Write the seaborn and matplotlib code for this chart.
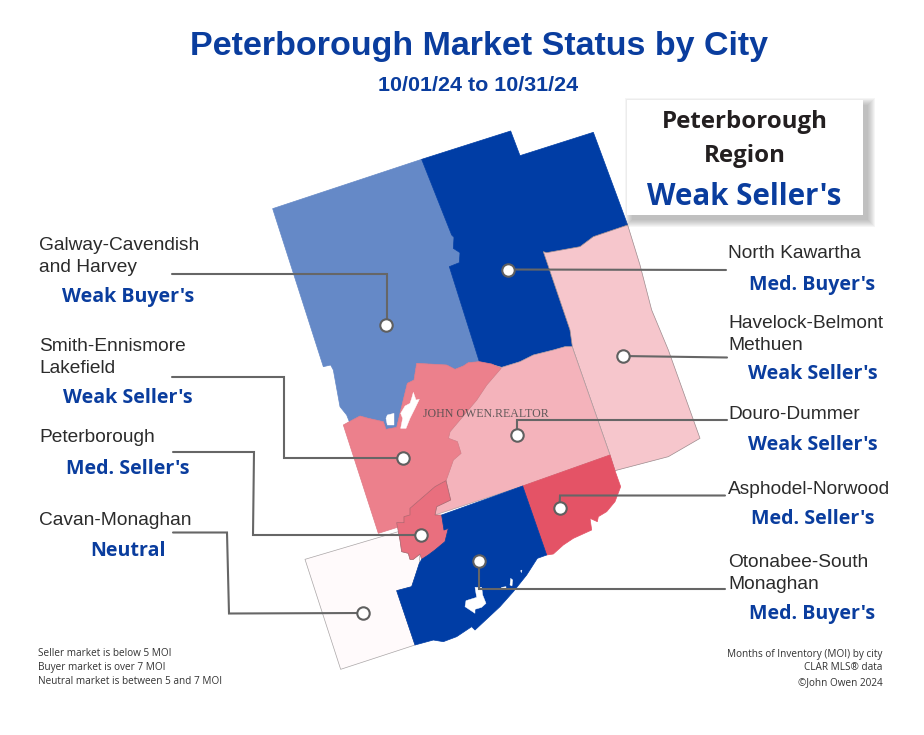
import matplotlib
matplotlib.use("Agg")
import matplotlib.pyplot as plt
from matplotlib.patches import Rectangle
import pandas as pd
import seaborn as sns

sns.set_theme(style="white")
LABEL_FONT = "Liberation Sans"
STATUS_FONT = "Open Sans"

# ---- data: municipality names, statuses, colours, boundaries (reference pixels)
def z1(pts):
    return [(260 + x / 3, 120 + y / 3) for x, y in pts]
def z2(pts):
    return [(300 + x / 3, 350 + y / 3) for x, y in pts]

galway_north = z1([(485,118),(575,345),(582,352),(580,385),(600,398),(598,428),(568,440),(658,725)])
galway_smith = z2([(538,35),(505,38),(490,48),(465,58),(440,45),(350,40),(342,90),(322,100),(300,190),
                   (290,232),(258,238),(250,215),(205,205),(180,198),(148,215)])
galway_outer = z2([(140,195),(120,170),(100,60),(92,45),(70,50)]) + z1([(38,266)])
north_outer = z1([(752,33),(780,107),(1000,37),(1103,315)])
north_havelock = z1([(1000,350),(960,380),(860,398),(850,395),(930,630),(937,680)])
north_douro = z1([(915,680),(880,690),(820,705),(780,725),(725,742),(700,735)])
havelock_outer = z1([(1140,435),(1175,570),(1225,690)]) + z2([(1200,265),(1105,320),(945,362),(930,315)])
havelock_douro = z2([(820,0)])
douro_smith = z2([(603,55),(560,105),(530,150),(450,245),(445,265),(472,275),(483,310),(460,330),(438,392)])
douro_south = z2([(452,450),(410,470),(405,495),(668,408),(930,315)])
smith_west = z2([(575,42)])
smith_south = z2([(130,225),(235,550),(292,532),(290,518),(312,518),(312,500),(330,495),(330,475),(405,410)])
peter_outer = z2([(290,518),(312,518),(312,500),(330,495),(330,475),(405,410),(438,392),(452,450),(410,470),(405,495),
                  (425,495),(432,540),(445,535),(435,575),(405,600),(385,615),(365,628),(360,612),(340,628),
                  (330,628),(325,610),(305,605),(300,570),(295,545)])
asphodel_outer = z2([(668,408),(930,315),(945,362),(962,410),(945,455),(920,485),(895,500),(892,515),(870,505),(875,540),
                     (820,565),(790,585),(760,612),(740,615)])
otonabee_outer = z2([(425,495),(668,408),(740,615),(712,625),(680,675),(640,725),(600,770),(525,840),(515,830),
                     (470,860),(430,875),(400,870),(345,885),(290,722),(335,710),(345,680),(358,640),(365,628),
                     (385,615),(405,600),(435,575),(445,535),(432,540)])
cavan_outer = z2([(15,628),(295,545),(300,570),(305,605),(325,610),(330,628),(340,628),(360,612),(358,640),(345,680),
                  (335,710),(290,722),(345,885),(122,958)])
holes = [
    z2([(340,127),(348,150),(358,148),(345,175),(330,205),(318,235),(302,235),(308,205),(302,190),(315,168),(330,160),(335,145)]),
    z2([(262,195),(282,190),(282,225),(262,225),(258,205)]),
    z2([(525,712),(545,712),(548,735),(558,760),(545,772),(525,778),(525,790),(495,770),(498,752),(530,742)]),
    z2([(632,685),(638,690),(636,708),(630,705)]),
    z2([(605,712),(618,710),(618,716),(603,716)]),
    z2([(662,662),(666,660),(664,668)]),
]

regions = [
    ("Cavan-Monaghan", cavan_outer, "#FFFAFB", "#A9A5A6"),
    ("Galway-Cavendish", galway_north + galway_smith + galway_outer, "#6589C7", "#6589C7"),
    ("North Kawartha", galway_north[:1] + north_outer + north_havelock + north_douro + galway_north[::-1][:-1],
     "#003DA5", "#003DA5"),
    ("Havelock-Belmont", north_outer[-1:] + havelock_outer + havelock_douro + north_havelock[::-1] + [north_havelock[0]],
     "#F6C6CC", "#9C8A8D"),
    ("Douro-Dummer", douro_smith + douro_south + havelock_douro + north_havelock[-1:] + north_douro, "#F4B3BB", "#B39EA1"),
    ("Smith-Ennismore", douro_smith[::-1] + smith_west + galway_smith + smith_south, "#EC808C", "#E07A86"),
    ("Peterborough", peter_outer, "#E96F7E", "#B0656F"),
    ("Asphodel-Norwood", asphodel_outer, "#E45366", "#E45366"),
    ("Otonabee", otonabee_outer, "#003DA5", "#003DA5"),
]

left_labels = [
    (["Galway-Cavendish", "and Harvey"], [250, 272], "Weak Buyer's", 302),
    (["Smith-Ennismore", "Lakefield"], [351, 373], "Weak Seller's", 403),
    (["Peterborough"], [442], "Med. Seller's", 474),
    (["Cavan-Monaghan"], [525], "Neutral", 556),
]
right_labels = [
    (["North Kawartha"], [258], "Med. Buyer's", 290),
    (["Havelock-Belmont", "Methuen"], [328, 350], "Weak Seller's", 379),
    (["Douro-Dummer"], [418.5], "Weak Seller's", 450),
    (["Asphodel-Norwood"], [493.5], "Med. Seller's", 524.5),
    (["Otonabee-South", "Monaghan"], [567, 589], "Med. Buyer's", 618.5),
]
leaders = [
    [(172,273.5),(387,273.5),(387,324)],
    [(172,377),(284,377),(284,458),(403,458)],
    [(173,452),(254,452),(253,535),(421,535)],
    [(173,532.5),(227,532.5),(229,613.5),(363,613)],
    [(508,269.5),(726,270)],
    [(622.5,356),(727,357.5)],
    [(516.5,435),(516.5,419.5),(727,419.5)],
    [(559.5,508),(560,495.5),(725,495.5)],
    [(479,561),(479,589),(725,589)],
]
dots_x = [386, 403, 421, 363, 508, 622.5, 516.5, 559.5, 479]
dots_y = [324.5, 458, 535, 613, 269.5, 356, 435, 508, 561]
notes_left = ["Seller market is below 5 MOI", "Buyer market is over 7 MOI", "Neutral market is between 5 and 7 MOI"]
notes_right = ["Months of Inventory (MOI) by city", "CLAR MLS\u00ae data", "\u00a9John Owen 2024"]

BLUE = "#0A3D9E"
INK = "#2B2B2B"

fig = plt.figure(figsize=(9.24, 7.35), dpi=100, facecolor="white")
ax = fig.add_axes([0, 0, 1, 1])
ax.set_xlim(0, 924)
ax.set_ylim(735, 0)
ax.axis("off")

def px(v):
    return v * 0.72

for name, poly, fill, edge in regions:
    xs, ys = zip(*poly)
    ax.fill(xs, ys, facecolor=fill, edgecolor=edge, linewidth=0.5, joinstyle="round", zorder=2)
for h in holes:
    xs, ys = zip(*h)
    ax.fill(xs, ys, facecolor="white", edgecolor="white", linewidth=0.3, zorder=3)

ax.text(486, 417, "JOHN OWEN.REALTOR", family="Liberation Serif", fontsize=px(11.9), color="#4A4A4A",
        ha="center", va="baseline", alpha=0.85, zorder=4)

for path in leaders:
    xs, ys = zip(*path)
    ax.plot(xs, ys, color="#666666", linewidth=1.5, solid_joinstyle="miter", zorder=5)

sns.scatterplot(data=pd.DataFrame({"x": dots_x, "y": dots_y}), x="x", y="y", ax=ax, s=80, color="white",
                edgecolor="#5F5F5F", linewidth=1.5, zorder=6, legend=False)
ax.set_xlim(0, 924)
ax.set_ylim(735, 0)
ax.axis("off")

# headline
ax.text(479.5, 54.5, "Peterborough Market Status by City", family=LABEL_FONT, weight="bold", fontsize=px(34),
        color=BLUE, ha="center", va="baseline")
ax.text(478.5, 91, "10/01/24 to 10/31/24", family=LABEL_FONT, weight="bold", fontsize=px(21.5),
        color=BLUE, ha="center", va="baseline")

# region call-out box with soft shadow
for k in range(7, -1, -1):
    ax.add_patch(Rectangle((627 + 5 - k, 100 + 5 - k), 236 + 2 * k, 115 + 2 * k, facecolor="#777777",
                           alpha=0.07, edgecolor="none", zorder=7))
ax.add_patch(Rectangle((627, 100), 236, 115, facecolor="white", edgecolor="none", zorder=8))
ax.text(744.5, 128, "Peterborough", family=STATUS_FONT, weight="bold", fontsize=px(24), color="#231F20",
        ha="center", va="baseline", zorder=9)
ax.text(744.5, 162, "Region", family=STATUS_FONT, weight="bold", fontsize=px(24), color="#231F20",
        ha="center", va="baseline", zorder=9)
ax.text(744.5, 205, "Weak Seller's", family=STATUS_FONT, weight="bold", fontsize=px(29.5), color=BLUE,
        ha="center", va="baseline", zorder=9)

for lines, ys, status, sy in left_labels:
    for t, y in zip(lines, ys):
        ax.text(39, y, t, family=LABEL_FONT, fontsize=px(19.2), color=INK, ha="left", va="baseline", zorder=9)
    ax.text(128, sy, status, family=STATUS_FONT, weight="bold", fontsize=px(19.7), color=BLUE,
            ha="center", va="baseline", zorder=9)
for lines, ys, status, sy in right_labels:
    for t, y in zip(lines, ys):
        ax.text(728, y, t, family=LABEL_FONT, fontsize=px(19.2), color=INK, ha="left", va="baseline", zorder=9)
    ax.text(812.5, sy, status, family=STATUS_FONT, weight="bold", fontsize=px(19.7), color=BLUE,
            ha="center", va="baseline", zorder=9)

for t, y in zip(notes_left, [656.5, 670, 683.5]):
    ax.text(38, y, t, family=STATUS_FONT, fontsize=px(10), color="#333333", ha="left", va="baseline")
for t, y in zip(notes_right, [656.5, 670.5, 685]):
    ax.text(882.5, y, t, family=STATUS_FONT, fontsize=px(10), color="#333333", ha="right", va="baseline")

fig.savefig("out.png", dpi=100, facecolor="white")
